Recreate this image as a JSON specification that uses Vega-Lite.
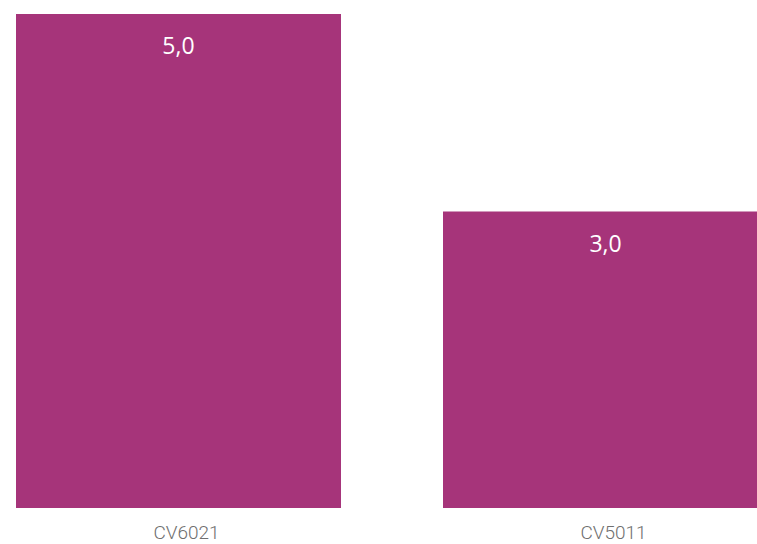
{
  "$schema": "https://vega.github.io/schema/vega-lite/v6.json",
  "width": 757,
  "height": 494,
  "autosize": {"type": "none"},
  "padding": {"left": 0, "top": 14, "right": 0, "bottom": 36},
  "background": "white",
  "data": {"values": [
    {"code": "CV6021", "value": 5.0, "label": "5,0"},
    {"code": "CV5011", "value": 3.0, "label": "3,0"}
  ]},
  "encoding": {
    "x": {"field": "code", "type": "nominal", "sort": null,
      "scale": {"range": [16, 768], "paddingInner": 0.2389, "paddingOuter": 0},
      "axis": {"title": null, "domain": false, "ticks": false, "labelAngle": 0, "labelFont": "Roboto", "labelFontWeight": 300, "labelFontSize": 19, "labelColor": "#6f6f6f", "labelPadding": 15, "labelOffset": 8}},
    "y": {"field": "value", "type": "quantitative", "scale": {"domain": [0, 5], "nice": false, "zero": true}, "axis": null}
  },
  "layer": [
    {"mark": {"type": "bar", "color": "#A6347A"}},
    {"mark": {"type": "text", "color": "white", "font": "Open Sans", "fontSize": 23, "baseline": "alphabetic", "dy": 40}, "encoding": {"text": {"field": "label"}}}
  ],
  "config": {"view": {"stroke": null}}
}
